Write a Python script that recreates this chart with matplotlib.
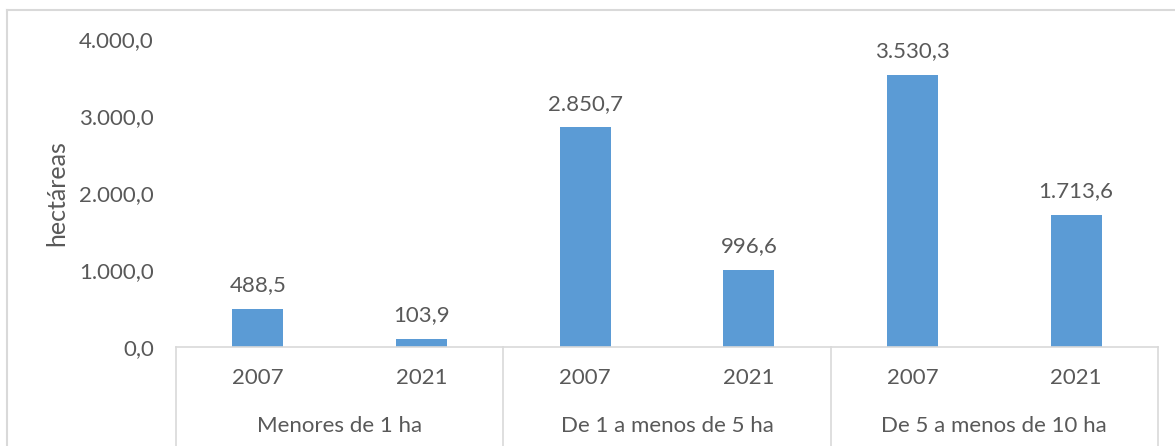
import matplotlib.pyplot as plt
import matplotlib.transforms as mtransforms
from matplotlib.lines import Line2D

groups = ['Menores de 1 ha', 'De 1 a menos de 5 ha', 'De 5 a menos de 10 ha']
years = ['2007', '2021']
val_2007 = [488.5, 2850.7, 3530.3]
val_2021 = [103.9, 996.6, 1713.6]

plt.rcParams['font.family'] = ['Lato', 'DejaVu Sans']
txt = '#595959'
bar_col = '#5B9BD5'
line_col = '#D9D9D9'
fs = 16

def fmt(v):
    # spanish number format: 1.234,5
    return f'{v:,.1f}'.replace(',', 'X').replace('.', ',').replace('X', '.')

values = []
labels = []
for a, b in zip(val_2007, val_2021):
    values += [a, b]
    labels += years

fig = plt.figure(figsize=(11.75, 4.46), dpi=100)
ax = fig.add_axes([176/1175, 1 - 347/446, (1158-176)/1175, (347-39)/446])

x = list(range(len(values)))
ax.bar(x, values, width=0.31, color=bar_col)
for xi, v in zip(x, values):
    ax.annotate(fmt(v), (xi, v), xytext=(0, 10), textcoords='offset points',
                ha='center', va='bottom', fontsize=fs, color=txt)

ax.set_xlim(-0.5, len(values) - 0.5)
ax.set_ylim(0, 4000)
ticks = [0, 1000, 2000, 3000, 4000]
ax.set_yticks(ticks)
ax.set_yticklabels([fmt(t) for t in ticks])
ax.tick_params(axis='y', length=0, pad=16, labelsize=fs, labelcolor=txt)
ax.set_xticks([])
for sp in ['top', 'right', 'left']:
    ax.spines[sp].set_visible(False)
ax.spines['bottom'].set_color(line_col)
ax.spines['bottom'].set_linewidth(1.2)
ax.set_ylabel('hectáreas', fontsize=18, color=txt, labelpad=8)

trans = mtransforms.blended_transform_factory(ax.transData, ax.transAxes)
for xi, lab in zip(x, labels):
    ax.text(xi, -0.1, lab, transform=trans, ha='center', va='center',
            fontsize=fs, color=txt)
for g, name in enumerate(groups):
    ax.text(2 * g + 0.5, -0.255, name, transform=trans, ha='center', va='center',
            fontsize=fs, color=txt)
for b in [-0.5, 1.5, 3.5, 5.5]:
    ax.plot([b, b], [0, -0.35], transform=trans, color=line_col, lw=1.2,
            clip_on=False)

# chart border
fig.add_artist(Line2D([7/1175, 7/1175], [0, 1 - 10/446], color=line_col, lw=1.5))
fig.add_artist(Line2D([7/1175, 1], [1 - 10/446, 1 - 10/446], color=line_col, lw=1.5))

fig.savefig('out.png', dpi=100)
